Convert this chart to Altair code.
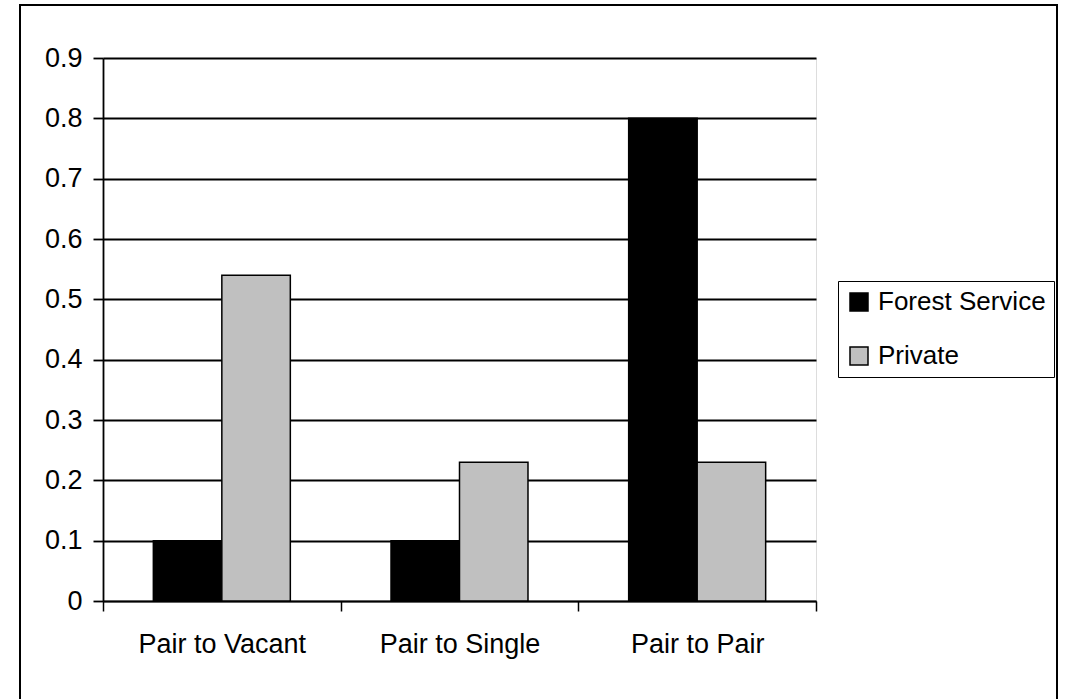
import altair as alt
import pandas as pd

categories = ["Pair to Vacant", "Pair to Single", "Pair to Pair"]
series = ["Forest Service", "Private"]
forest_service = [0.1, 0.1, 0.8]
private = [0.54, 0.23, 0.23]
y_ticks = [0, 0.1, 0.2, 0.3, 0.4, 0.5, 0.6, 0.7, 0.8, 0.9]

rows = []
for c, fs, pv in zip(categories, forest_service, private):
    rows.append({"category": c, "series": "Forest Service", "value": fs})
    rows.append({"category": c, "series": "Private", "value": pv})
df = pd.DataFrame(rows)

FONT = "Liberation Sans"
FS = 27

bars = alt.Chart(df).mark_bar(stroke="black", strokeWidth=1.5).encode(
    x=alt.X(
        "category:N",
        sort=categories,
        scale=alt.Scale(paddingInner=0, paddingOuter=0),
        axis=alt.Axis(
            title=None, labelAngle=0, tickBand="extent", ticks=True, tickSize=10,
            tickColor="black", tickWidth=1.5, domainColor="black", domainWidth=1.5,
            labelFontSize=FS, labelFont=FONT, labelColor="black", labelPadding=20,
        ),
    ),
    xOffset=alt.XOffset(
        "series:N", sort=series, scale=alt.Scale(paddingInner=0, paddingOuter=0.735)
    ),
    y=alt.Y(
        "value:Q",
        scale=alt.Scale(domain=[0, 0.9], nice=False),
        axis=alt.Axis(
            title=None, values=y_ticks,
            labelExpr="datum.value == 0 ? '0' : format(datum.value, '.1f')",
            grid=True, gridColor="black", gridWidth=1.8,
            tickSize=10, tickColor="black", tickWidth=1.8,
            domainColor="black", domainWidth=1.8,
            labelFontSize=FS, labelFont=FONT, labelColor="black", labelPadding=11,
        ),
    ),
    color=alt.Color(
        "series:N",
        sort=series,
        scale=alt.Scale(domain=series, range=["#000000", "#c0c0c0"]),
        legend=alt.Legend(
            title=None, orient="none", legendX=735, legendY=223,
            strokeColor="black", fillColor="white", padding=8,
            symbolType="square", symbolSize=324, symbolStrokeColor="black",
            symbolStrokeWidth=1.5, labelFontSize=26, labelFont=FONT,
            labelColor="black", labelOffset=6, rowPadding=28, labelLimit=400,
        ),
    ),
)

frame = alt.Chart(pd.DataFrame({"a": [0]})).mark_rect(
    fillOpacity=0, stroke="black", strokeWidth=2
).encode(
    x=alt.value(-83), x2=alt.value(954), y=alt.value(-53), y2=alt.value(700)
)

chart = alt.layer(frame, bars).properties(
    width=713,
    height=543,
    autosize=alt.AutoSizeParams(type="none"),
    padding={"left": 103, "top": 58, "right": 250, "bottom": 98},
).configure_view(stroke=None).configure(background="white")

chart.save("out.html", embed_options={"renderer": "svg", "actions": False})
